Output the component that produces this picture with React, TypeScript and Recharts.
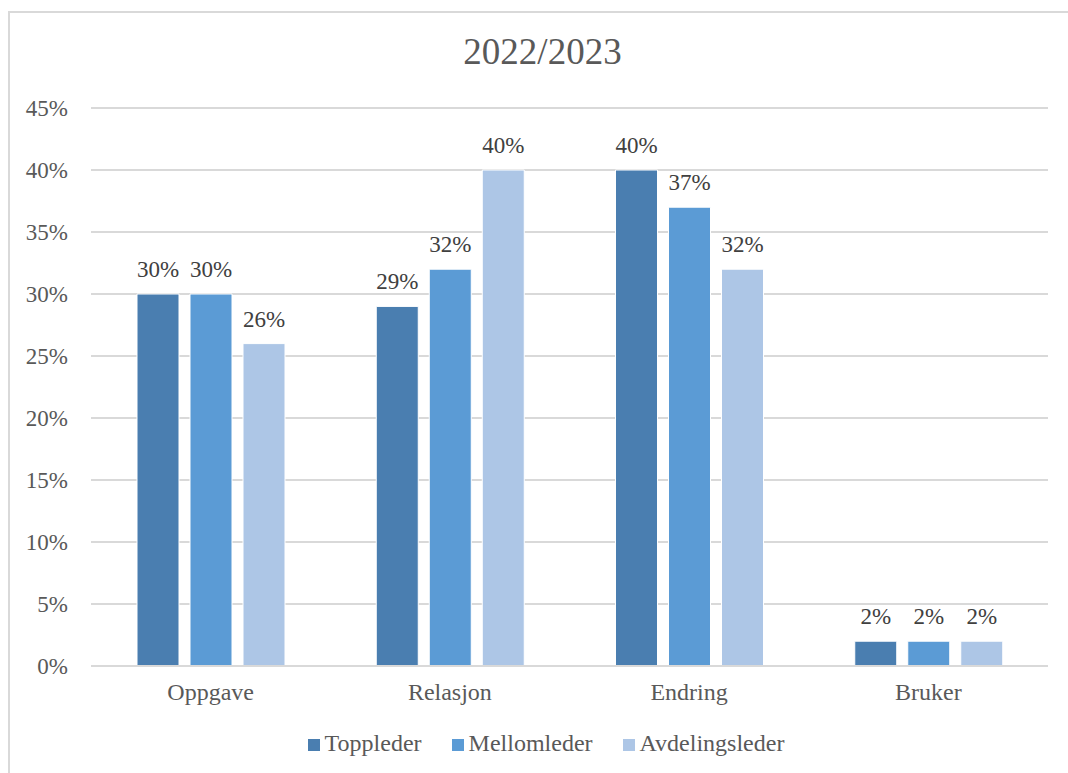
import React from "react";
import { BarChart, Bar, XAxis, YAxis, CartesianGrid, Legend, LabelList } from "recharts";

const categories = ["Oppgave", "Relasjon", "Endring", "Bruker"];
const toppleder = [30, 29, 40, 2];
const mellomleder = [30, 32, 37, 2];
const avdelingsleder = [26, 40, 32, 2];
const yTicks = [0, 5, 10, 15, 20, 25, 30, 35, 40, 45];

const series = [
  { key: "Toppleder", color: "#4a7eb0" },
  { key: "Mellomleder", color: "#5b9bd5" },
  { key: "Avdelingsleder", color: "#adc6e6" },
];

const data = categories.map((c, i) => ({
  name: c,
  Toppleder: toppleder[i],
  Mellomleder: mellomleder[i],
  Avdelingsleder: avdelingsleder[i],
}));

const FONT = '"Liberation Serif", "Times New Roman", serif';

const LegendContent = () => (
  <div
    style={{
      display: "flex",
      justifyContent: "center",
      alignItems: "baseline",
      fontFamily: FONT,
      fontSize: 24,
      color: "#595959",
    }}
  >
    {series.map((s, i) => (
      <span key={s.key} style={{ marginLeft: i === 0 ? 0 : 30, display: "inline-flex", alignItems: "baseline" }}>
        <span
          style={{
            display: "inline-block",
            width: 12,
            height: 12,
            background: s.color,
            marginRight: 5,
          }}
        />
        {s.key}
      </span>
    ))}
  </div>
);

const App = () => {
  return (
    <div
      style={{
        position: "absolute",
        top: 0,
        left: 0,
        width: 1068,
        height: 773,
        overflow: "hidden",
        background: "#fff",
      }}
    >
      <div
        style={{
          position: "absolute",
          left: 8,
          top: 11,
          width: 1100,
          height: 800,
          border: "2px solid #d9d9d9",
        }}
      />
      <div
        style={{
          position: "absolute",
          left: 9,
          width: 1067,
          top: 30,
          textAlign: "center",
          fontFamily: FONT,
          fontSize: 37,
          lineHeight: "44px",
          color: "#595959",
        }}
      >
        2022/2023
      </div>
      <div style={{ position: "absolute", top: 0, left: 0 }}>
        <BarChart
          width={1068}
          height={773}
          data={data}
          margin={{ top: 108, right: 20, bottom: 77, left: 0 }}
          barSize={42}
          barGap={11}
        >
          <CartesianGrid vertical={false} stroke="#d9d9d9" strokeWidth={2} />
          <XAxis
            dataKey="name"
            height={30}
            tickLine={false}
            tickSize={0}
            tickMargin={17}
            axisLine={{ stroke: "#d9d9d9", strokeWidth: 2 }}
            tick={{ fill: "#595959", fontSize: 24, fontFamily: FONT }}
          />
          <YAxis
            width={91}
            domain={[0, 45]}
            ticks={yTicks}
            interval={0}
            axisLine={false}
            tickLine={false}
            tickSize={0}
            tickMargin={23}
            tickFormatter={(v: number) => `${v}%`}
            tick={{ fill: "#595959", fontSize: 23, fontFamily: FONT }}
          />
          <Legend
            verticalAlign="middle"
            align="center"
            layout="horizontal"
            wrapperStyle={{ top: 730, left: 0, width: 1092 }}
            content={<LegendContent />}
          />
          {series.map((s) => (
            <Bar
              key={s.key}
              dataKey={s.key}
              fill={s.color}
              stroke="#ffffff"
              strokeWidth={1}
              isAnimationActive={false}
            >
              <LabelList
                dataKey={s.key}
                position="top"
                offset={17}
                formatter={(v: number) => `${v}%`}
                style={{ fill: "#404040", fontSize: 23, fontFamily: FONT }}
              />
            </Bar>
          ))}
        </BarChart>
      </div>
    </div>
  );
};

export default App;
